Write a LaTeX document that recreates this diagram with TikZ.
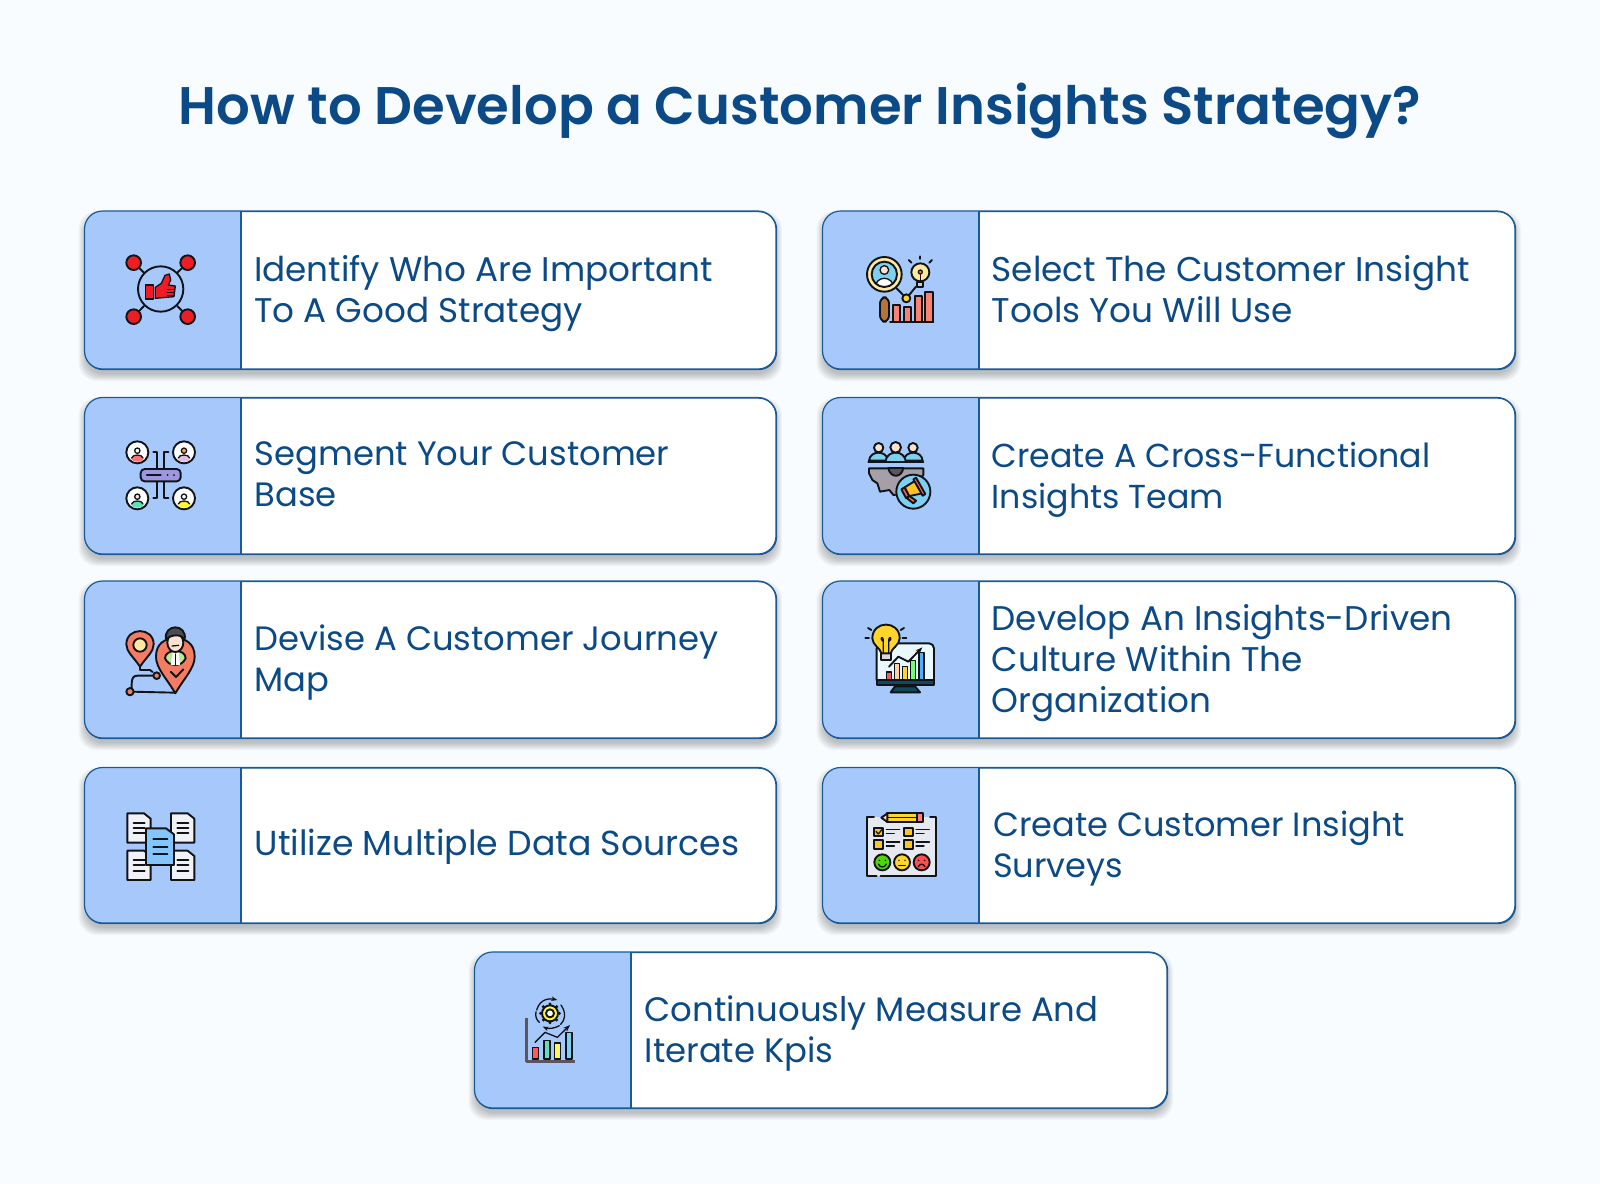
\documentclass[tikz,border=0pt]{standalone}
\usepackage{fontspec}
\setmainfont{Poppins}
\newfontfamily\titlef{Poppins}[UprightFont=*-SemiBold]
\usetikzlibrary{arrows.meta,calc}
\definecolor{bgc}{HTML}{F8FCFF}
\definecolor{navy}{HTML}{0B4A87}
\definecolor{bord}{HTML}{1A5A96}
\definecolor{panel}{HTML}{A6C8FB}
\definecolor{ink}{HTML}{101418}
\definecolor{cred}{HTML}{EE1C25}
\definecolor{coral}{HTML}{F47C63}
\definecolor{barcoral}{HTML}{FA8270}
\definecolor{lilac}{HTML}{9C97E0}
\definecolor{paper}{HTML}{F0F2F5}
\definecolor{skydoc}{HTML}{84C5FB}
\definecolor{sky}{HTML}{7DD0F0}
\definecolor{brownh}{HTML}{B5743A}
\definecolor{gold}{HTML}{FFD52B}
\definecolor{paleg}{HTML}{FFE9A0}
\definecolor{skin}{HTML}{FDE3CE}
\definecolor{gearg}{HTML}{A79FA8}
\definecolor{darkt}{HTML}{0E4A5E}
\definecolor{sheet}{HTML}{E6EAF0}
\definecolor{mint}{HTML}{5FE0B8}
\definecolor{axisg}{HTML}{5C5560}
\tikzset{
  card/.style={draw=bord,line width=1.2pt,fill=white,rounded corners=18pt,anchor=north west,inner sep=0pt},
  lab/.style={anchor=west,align=left,text=navy,inner sep=0pt},
  ic/.style={draw=ink,line width=1.9pt,line join=round,line cap=round},
  thin/.style={draw=ink,line width=1.3pt,line join=round,line cap=round},
}
\newcommand{\sz}[1]{\fontsize{#1}{41}\selectfont}
\newcommand{\cardbox}[5]{% name,x,y,w,h
  \foreach \i in {0,...,7}{
    \fill[black,opacity=0.032,rounded corners=18pt]
      ({#2-6+\i},{#3+\i}) rectangle ({#2+#4+6-\i},{#3+#5+12-\i});
  }
  \node[card,minimum width=#4pt,minimum height=#5pt] (#1) at (#2,#3) {};
  \begin{scope}
    \clip[rounded corners=18pt] (#2,#3) rectangle ({#2+#4},{#3+#5});
    \fill[panel] (#2,#3) rectangle ({#2+156.5},{#3+#5});
  \end{scope}
  \draw[bord,line width=1.2pt] ({#2+156.5},#3) -- ({#2+156.5},{#3+#5});
  \draw[bord,line width=1.2pt,rounded corners=18pt] (#2,#3) rectangle ({#2+#4},{#3+#5});
}
\newcommand{\profile}[4]{% x,y,head,body
  \draw[ic,fill=white] (#1,#2) circle[radius=33];
  \begin{scope}
    \clip (#1,#2) circle[radius=31];
    \fill[#4] (#1,{#2+18}) ellipse[x radius=19,y radius=10];
  \end{scope}
  \draw[thin,fill=#3] (#1,{#2-5}) circle[radius=8];
  \draw[thin] ({#1-17},{#2+17}) .. controls ({#1-15},{#2+5}) and ({#1+15},{#2+5}) .. ({#1+17},{#2+17});
}
\newcommand{\docicon}[3]{% x,y,fill
  \draw[ic,fill=#3] (#1,#2) -- ({#1+50},#2) -- ({#1+70},{#2+16}) -- ({#1+70},{#2+88}) -- (#1,{#2+88}) -- cycle;
  \foreach \k in {28,44,60}{\draw[ic] ({#1+19},{#2+\k}) -- ({#1+52},{#2+\k});}
}
\begin{document}
\begin{tikzpicture}[x=1pt,y=-1pt]
\useasboundingbox (0,0) rectangle (1600,1184);
\fill[bgc] (0,0) rectangle (1600,1184);
\node[text=navy,font=\titlef\fontsize{52.9}{60}\selectfont,inner sep=0pt] (title) at (800,111) {How to Develop a Customer Insights Strategy?};

\cardbox{c1}{84.5}{211}{691.5}{158}
\cardbox{c2}{84.5}{397.5}{691.5}{156.5}
\cardbox{c3}{84.5}{581}{691.5}{157}
\cardbox{c4}{84.5}{767.5}{691.5}{155.5}
\cardbox{c5}{822.5}{211}{692.5}{158}
\cardbox{c6}{822.5}{397.5}{692.5}{156.5}
\cardbox{c7}{822.5}{581}{692.5}{157}
\cardbox{c8}{822.5}{767.5}{692.5}{155.5}
\cardbox{c9}{474.5}{952}{692.5}{156}

\node[lab,font=\sz{34.2}] (t1) at (254,293.5) {\strut Identify Who Are Important\\\strut To A Good Strategy};
\node[lab,font=\sz{33.8}] (t2) at (254.5,478) {\strut Segment Your Customer\\\strut Base};
\node[lab,font=\sz{33.8}] (t3) at (254.5,663) {\strut Devise A Customer Journey\\\strut Map};
\node[lab,font=\sz{34.7}] (t4) at (254.5,847) {\strut Utilize Multiple Data Sources};
\node[lab,font=\sz{34.3}] (t5) at (991.5,293.5) {\strut Select The Customer Insight\\\strut Tools You Will Use};
\node[lab,font=\sz{33.2}] (t6) at (991.5,480) {\strut Create A Cross-Functional\\\strut Insights Team};
\node[lab,font=\sz{34.2}] (t7) at (991.5,663) {\strut Develop An Insights-Driven\\\strut Culture Within The\\\strut Organization};
\node[lab,font=\sz{33.6}] (t8) at (993,849) {\strut Create Customer Insight\\\strut Surveys};
\node[lab,font=\sz{33.9}] (t9) at (644.5,1034) {\strut Continuously Measure And\\\strut Iterate Kpis};

% icon 1
\begin{scope}[shift={(70,200)},scale=1/3]
  \draw[ic] (272,267) circle[radius=68];
  \foreach \a/\b/\c/\d in {191/188/222/218,353/188/322/218,191/350/222/318,353/350/322/318}{
    \draw[ic] (\a,\b) -- (\c,\d);
    \draw[ic,fill=cred] (\a,\b) circle[radius=22];
  }
  \draw[thin,fill=cred] (226,255) rectangle (250,297);
  \draw[thin,fill=cred] (256,262) -- (274,250) -- (285,226) -- (298,222) -- (302,240) -- (295,255) -- (316,258) -- (312,290) -- (256,295) -- cycle;
  \foreach \k in {268,277,286}{\draw[thin] (292,\k) -- (312,\k);}
\end{scope}

% icon 2
\begin{scope}[shift={(100,420)},scale=1/3]
  \draw[ic] (160,97) -- (172,97) -- (172,235) -- (160,235);
  \draw[ic] (205,97) -- (192,97) -- (192,235) -- (205,235);
  \draw[ic,rounded corners=4pt,fill=lilac] (122,147) rectangle (242,184);
  \draw[thin] (140,165) -- (183,165);
  \fill[ink] (203,165) circle[radius=3] (222,165) circle[radius=3];
  \profile{112}{97}{white}{red!55!white}
  \profile{252}{97}{orange!70!white}{violet!25!white}
  \profile{112}{235}{pink!50!white}{mint}
  \profile{252}{235}{white}{yellow!80!white}
\end{scope}

% icon 3
\begin{scope}[shift={(100,610)},scale=1/3]
  \draw[ic] (120,170) -- (120,180) -- (150,180) -- (158,186);
  \draw[ic] (170,197) -- (112,197) .. controls (100,197) and (95,205) .. (95,222) -- (95,240);
  \draw[ic] (95,245) -- (226,248);
  \draw[ic,fill=coral] (170,197) circle[radius=10];
  \draw[ic,fill=coral] (90,245) circle[radius=11];
  \draw[ic,fill=coral] (120,170) .. controls (100,140) and (79,125) .. (79,103) .. controls (79,50) and (161,50) .. (161,103) .. controls (161,125) and (140,140) .. (120,170) -- cycle;
  \draw[ic,fill=paleg] (120,105) circle[radius=20];
  \draw[ic,fill=coral] (226,250) .. controls (200,205) and (168,175) .. (168,140) .. controls (168,100) and (195,85) .. (226,85) .. controls (257,85) and (284,100) .. (284,140) .. controls (284,175) and (252,205) .. (226,250) -- cycle;
  \draw[ic,fill=yellow!45!green!45!white] (195,145) .. controls (195,115) and (257,115) .. (257,145) .. controls (245,172) and (207,172) .. (195,145) -- cycle;
  \fill[white] (218,128) -- (236,128) -- (240,165) -- (212,165) -- cycle;
  \draw[thin] (226,132) -- (226,165);
  \draw[ic,fill=skin] (226,98) ellipse[x radius=24,y radius=28];
  \draw[ic,fill=gray!60!black] (198,88) .. controls (190,40) and (262,40) .. (254,88) .. controls (245,72) and (215,72) .. (198,88) -- cycle;
  \draw[thin] (216,108) -- (236,106);
  \draw[ic] (212,185) -- (228,201) -- (250,178);
\end{scope}

% icon 4
\begin{scope}[shift={(100,790)},scale=1/3]
  \docicon{82}{70}{paper}
  \docicon{213}{70}{paper}
  \docicon{82}{182}{paper}
  \docicon{213}{182}{paper}
  \draw[ic,fill=skydoc] (138,115) -- (198,115) -- (222,133) -- (222,225) -- (138,225) -- cycle;
  \foreach \k in {147,170,192}{\draw[ic] (160,\k) -- (202,\k);}
\end{scope}

% icon 5
\begin{scope}[shift={(840,240)},scale=1/3]
  \draw[ic] (170,145) -- (199,175) -- (228,140);
  \draw[ic,fill=gold] (199,175) circle[radius=12];
  \draw[ic,fill=brownh,rounded corners=6pt] (120,172) rectangle (147,245);
  \draw[ic,fill=paleg] (133,103) circle[radius=52];
  \begin{scope}
    \clip (133,103) circle[radius=38];
    \fill[sky] (133,103) circle[radius=38];
    \draw[thin,fill=white] (105,145) .. controls (105,105) and (161,105) .. (161,145) -- cycle;
  \end{scope}
  \draw[ic] (133,103) circle[radius=38];
  \draw[thin,fill=skin] (133,90) circle[radius=13];
  \foreach \x/\t/\w in {160/195/20,192/200/21,224/167/22,256/155/23}{
    \draw[ic,fill=barcoral] (\x,\t) rectangle ({\x+\w},245);
  }
  \draw[ic] (150,246) -- (280,246);
  \draw[ic,fill=paleg] (241,97) circle[radius=27];
  \draw[ic,fill=gray!40!white] (232,126) rectangle (250,140);
  \draw[thin,fill=orange] (241,96) circle[radius=6];
  \draw[thin] (241,102) -- (241,126);
  \draw[ic] (241,49) -- (241,57);
  \draw[ic] (206,60) -- (214,68);
  \draw[ic] (276,60) -- (268,68);
\end{scope}

% icon 6
\begin{scope}[shift={(840,430)},scale=1/3]
  \draw[ic,fill=gearg] (87,115) -- (250,115) -- (250,135) -- (200,190) -- (160,195) -- (148,180) -- (120,185) -- (112,160) -- (97,150) -- (87,130) -- cycle;
  \draw[ic,fill=axisg] (145,114) .. controls (150,145) and (185,145) .. (190,114) -- cycle;
  \draw[ic,fill=sky] (87,92) .. controls (90,60) and (140,60) .. (145,92) -- cycle;
  \draw[ic,fill=sky] (190,92) .. controls (195,60) and (245,60) .. (248,92) -- cycle;
  \draw[ic,fill=sky] (136,96) .. controls (140,58) and (194,58) .. (198,96) -- cycle;
  \draw[ic,fill=skin] (116,53) circle[radius=14];
  \draw[ic,fill=skin] (219,53) circle[radius=14];
  \draw[ic,fill=skin] (167,52) circle[radius=16];
  \draw[ic] (85,97) -- (250,97);
  \draw[ic,fill=sky] (220,185) circle[radius=51];
  \draw[ic,fill=coral] (208,198) -- (228,212) -- (220,220) -- (200,204) -- cycle;
  \draw[ic,fill=cred!70!white] (184,178) -- (194,172) -- (208,198) -- (198,204) -- cycle;
  \draw[ic,fill=gold!80!orange] (194,172) -- (226,152) -- (248,190) -- (208,198) -- cycle;
  \draw[ic,fill=cred!70!white] (220,148) -- (228,143) -- (256,192) -- (248,197) -- cycle;
\end{scope}

% icon 7
\begin{scope}[shift={(840,610)},scale=1/3]
  \draw[ic,fill=cyan!8!white,rounded corners=5pt] (110,100) rectangle (282,225);
  \draw[ic,fill=darkt] (110,210) rectangle (282,225);
  \draw[ic,fill=darkt] (165,229) -- (225,229) -- (240,247) -- (152,247) -- cycle;
  \foreach \x/\t/\c in {139/186/red!65!white,164/160/orange!35!white,188/170/gold,212/152/green!55!white,237/128/blue!45!cyan!70!white}{
    \draw[thin,fill=\c] (\x,\t) rectangle ({\x+15},209);
  }
  \draw[ic,-{Stealth[length=7pt]}] (147,170) -- (175,140) -- (205,155) -- (247,112);
  \draw[ic,fill=gray!30!white] (124,125) rectangle (152,151);
  \draw[ic,fill=gold] (124,130) .. controls (122,115) and (97,105) .. (97,85) .. controls (97,30) and (179,30) .. (179,85) .. controls (179,105) and (154,115) .. (152,130) -- cycle;
  \draw[thin] (130,128) -- (130,90) .. controls (130,75) and (115,85) .. (130,95);
  \draw[thin] (146,128) -- (146,90) .. controls (146,75) and (161,85) .. (146,95);
  \draw[ic] (76,85) -- (87,85);
  \draw[ic] (188,85) -- (199,85);
  \draw[ic] (84,54) -- (94,60);
  \draw[ic] (192,54) -- (182,60);
\end{scope}

% icon 8
\begin{scope}[shift={(840,800)},scale=1/3]
  \fill[sheet] (82,52) rectangle (288,228);
  \draw[ic] (110,228) -- (82,228) -- (82,52) -- (102,52);
  \draw[ic] (122,228) -- (288,228) -- (288,52) -- (270,52);
  \draw[ic,fill=gold] (142,40) rectangle (232,66);
  \draw[ic,fill=red!50!white] (232,40) rectangle (250,66);
  \draw[ic,fill=orange!30!white] (142,40) -- (124,53) -- (142,66) -- cycle;
  \draw[thin] (142,53) -- (232,53);
  \foreach \x/\y in {103/83,192/83,103/120,192/120}{
    \draw[ic,fill=gold!80!orange] (\x,\y) rectangle ({\x+26},{\y+26});
    \draw[thin] ({\x+36},{\y+6}) -- ({\x+76},{\y+6});
    \draw[thin] ({\x+36},{\y+18}) -- ({\x+60},{\y+18});
  }
  \draw[thin] (108,94) -- (115,102) -- (127,87);
  \foreach \x/\c in {127/green!65!yellow!85!black,186/gold,245/red!70!white}{
    \draw[ic,fill=\c] (\x,187) circle[radius=24];
    \fill[ink] ({\x-9},181) circle[radius=2.5] ({\x+9},181) circle[radius=2.5];
  }
  \draw[thin] (115,192) .. controls (120,204) and (134,204) .. (139,192);
  \draw[thin] (176,197) -- (196,197);
  \draw[thin] (235,200) .. controls (240,190) and (250,190) .. (255,200);
\end{scope}

% icon 9
\begin{scope}[shift={(500,985)},scale=1/3]
  \draw[draw=axisg,line width=3.5pt,line join=round] (80,100) -- (80,230) -- (225,230);
  \foreach \x/\t/\c in {98/188/red!65!white,132/166/mint,164/174/yellow!65!white,198/142/sky}{
    \draw[thin,fill=\c] (\x,\t) rectangle ({\x+18},222);
  }
  \draw[thin,-{Stealth[length=7pt]}] (105,172) -- (135,142) -- (172,157) -- (210,120);
  \foreach \a in {0,45,...,315}{
    \fill[ink] ($(150,85)+(\a:28)$) circle[radius=5];
  }
  \draw[ic,fill=yellow!75!white] (150,85) circle[radius=24];
  \draw[ic,fill=white] (150,85) circle[radius=12];
  \draw[thin,-{Stealth[length=6pt]}] (110,75) .. controls (120,40) and (150,40) .. (172,45);
  \draw[thin] (183,60) .. controls (200,85) and (195,105) .. (182,118);
  \draw[thin,-{Stealth[length=6pt]}] (178,122) .. controls (165,130) and (145,132) .. (128,125);
  \draw[thin] (118,112) .. controls (110,105) and (105,95) .. (108,80);
\end{scope}
\end{tikzpicture}
\end{document}
